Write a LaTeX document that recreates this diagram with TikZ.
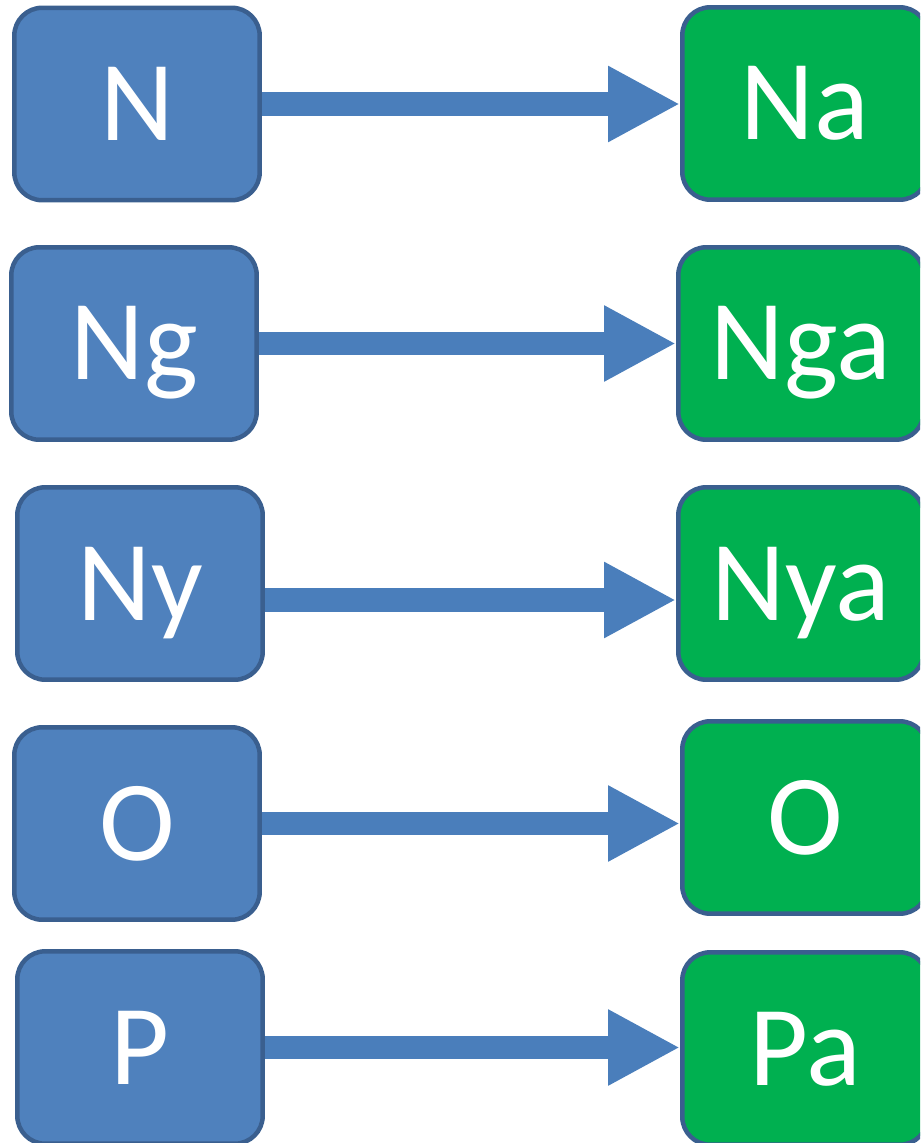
\documentclass[tikz,border=0pt]{standalone}
\usepackage{fontspec}
\setmainfont{Carlito}
\usepackage{xcolor}
\definecolor{sylblue}{HTML}{4F81BD}
\definecolor{sylborder}{HTML}{3A5F8F}
\definecolor{sylgreen}{HTML}{00B050}
\definecolor{sylarrow}{HTML}{4A7EBB}
\usepackage{tikz}
\usetikzlibrary{arrows.meta,positioning,calc}

\tikzset{
  letterbox/.style={draw=sylborder, line width=0.09cm, rounded corners=0.56cm,
    minimum width=4.91cm, minimum height=3.85cm, inner sep=0pt,
    text=white, font=\fontsize{65}{68}\selectfont,
    text height=1.46cm, text depth=0pt},
  srcbox/.style={letterbox, fill=sylblue},
  dstbox/.style={letterbox, fill=sylgreen},
  maparrow/.style={draw=sylarrow, line width=0.47cm,
    -{Triangle[length=1.44cm,width=1.42cm]}}
}

\begin{document}
\begin{tikzpicture}[x=0.02cm,y=-0.02cm]
  \clip (0,0) rectangle (920,1143);

  %% left column: consonants
  \node[srcbox] (n)  at (137,104)    {N};
  \node[srcbox] (ng) at (134,343.5)  {Ng};
  \node[srcbox] (ny) at (140,583.5)  {Ny};
  \node[srcbox] (o)  at (137,823.5)  {O};
  \node[srcbox] (p)  at (140,1047.5) {P};

  %% right column: syllables
  \node[dstbox] (na)  at (805,103.5)  {Na};
  \node[dstbox] (nga) at (801,343.5)  {Nga};
  \node[dstbox] (nya) at (801,583.5)  {Nya};
  \node[dstbox] (oo)  at (805,817.5)  {O};
  \node[dstbox] (pa)  at (805,1048.5) {Pa};

  %% arrows
  \draw[maparrow] (n.east)  -- (n.east -| na.west);
  \draw[maparrow] (ng.east) -- (ng.east -| nga.west);
  \draw[maparrow] ([yshift=-0.33cm]ny.east) -- ([yshift=-0.33cm]ny.east -| nya.west);
  \draw[maparrow] (o.east)  -- (o.east -| oo.west);
  \draw[maparrow] (p.east)  -- (p.east -| pa.west);
\end{tikzpicture}
\end{document}
